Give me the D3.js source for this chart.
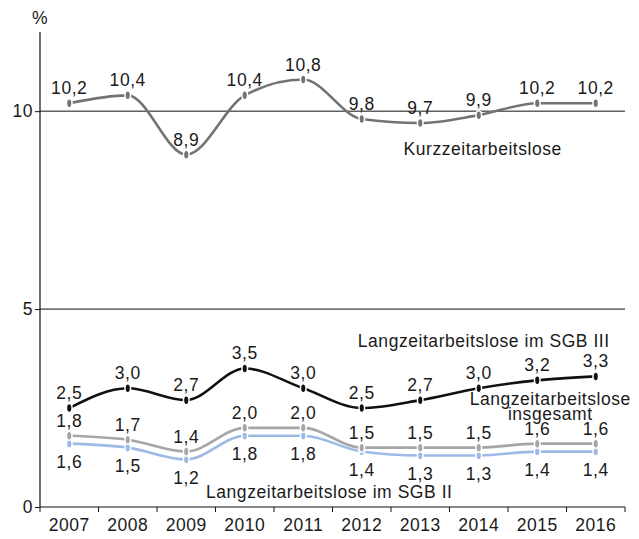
<!DOCTYPE html>
<html>
<head>
<meta charset="utf-8">
<script src="https://cdn.jsdelivr.net/npm/d3@7/dist/d3.min.js"></script>
<style>
  html, body { margin: 0; padding: 0; background: #fff; }
  svg text { font-family: "Liberation Sans", Arial, Helvetica, sans-serif; fill: #1a1a1a; letter-spacing: 0.55px; }
</style>
</head>
<body>
<svg id="chart" width="639" height="539"></svg>
<script>
// Arbeitslosenquoten in Prozent, 2007–2016
const years = ["2007","2008","2009","2010","2011","2012","2013","2014","2015","2016"];
const kurzzeit = [10.2, 10.4, 8.9, 10.4, 10.8, 9.8, 9.7, 9.9, 10.2, 10.2];
const langSGB3 = [2.5, 3.0, 2.7, 3.5, 3.0, 2.5, 2.7, 3.0, 3.2, 3.3];
const langGesamt = [1.8, 1.7, 1.4, 2.0, 2.0, 1.5, 1.5, 1.5, 1.6, 1.6];
const langSGB2 = [1.6, 1.5, 1.2, 1.8, 1.8, 1.4, 1.3, 1.3, 1.4, 1.4];
const yTicks = [0, 5, 10];

const svg = d3.select("#chart");
const plotLeft = 40, plotRight = 625, plotTop = 32, plotBottom = 507;
const fs = 17.5;

const x = d3.scaleBand().domain(years).range([plotLeft, plotRight]);
const y = d3.scaleLinear().domain([0, 12]).range([plotBottom, plotTop]);
const cx = yr => x(yr) + x.bandwidth() / 2;
const fmt = v => v.toFixed(1).replace(".", ",");

// horizontal reference lines at 5 and 10
svg.append("g").selectAll("line").data(yTicks.filter(t => t > 0)).join("line")
  .attr("x1", plotLeft).attr("x2", plotRight)
  .attr("y1", d => y(d)).attr("y2", d => y(d))
  .attr("stroke", "#111").attr("stroke-width", 1);

// y axis
const yAxis = svg.append("g").attr("transform", `translate(${plotLeft},0)`)
  .call(d3.axisLeft(y).tickValues(yTicks).tickSize(5).tickFormat(d => d));
yAxis.select(".domain").attr("d", `M0,${plotTop}V${plotBottom}`).attr("stroke", "#111").attr("stroke-width", 1.2);
yAxis.selectAll(".tick line").attr("stroke", "#111");
yAxis.selectAll(".tick text").attr("font-size", fs).attr("fill", "#1a1a1a").attr("x", -7)
  .attr("font-family", "Liberation Sans, Arial, sans-serif");

svg.append("text").attr("x", plotLeft).attr("y", 24).attr("text-anchor", "middle")
  .attr("font-size", fs).text("%");

// x axis with ticks at band boundaries
const xg = svg.append("g").attr("transform", `translate(0,${plotBottom})`);
xg.append("line").attr("x1", plotLeft).attr("x2", plotRight).attr("stroke", "#111").attr("stroke-width", 1.2);
const edges = years.map(yr => x(yr)).concat([plotRight]);
xg.selectAll("line.t").data(edges).join("line").attr("class", "t")
  .attr("x1", d => d).attr("x2", d => d).attr("y1", 0).attr("y2", 5)
  .attr("stroke", "#111");
xg.selectAll("text").data(years).join("text")
  .attr("x", d => cx(d)).attr("y", 24).attr("text-anchor", "middle")
  .attr("font-size", fs).text(d => d);

const line = d3.line().x((d, i) => cx(years[i])).y(d => y(d)).curve(d3.curveMonotoneX);

const series = [
  { values: langSGB2, color: "#9db9e6", labelPos: "below" },
  { values: langGesamt, color: "#a6a6a6", labelPos: "above" },
  { values: langSGB3, color: "#111111", labelPos: "above" },
  { values: kurzzeit, color: "#737373", labelPos: "above" }
];

series.forEach(s => {
  const g = svg.append("g");
  g.append("path").datum(s.values).attr("d", line)
    .attr("fill", "none").attr("stroke", s.color).attr("stroke-width", 2.6);
  g.selectAll("ellipse").data(s.values).join("ellipse")
    .attr("cx", (d, i) => cx(years[i])).attr("cy", d => y(d))
    .attr("rx", 2.8).attr("ry", 4.5)
    .attr("fill", s.color).attr("stroke", "#fff").attr("stroke-width", 1.5);
  g.selectAll("text").data(s.values).join("text")
    .attr("x", (d, i) => cx(years[i]))
    .attr("y", d => s.labelPos === "above" ? y(d) - 9 : y(d) + 24)
    .attr("text-anchor", "middle").attr("font-size", fs)
    .text(d => fmt(d));
});

// series names
const names = [
  { text: ["Kurzzeitarbeitslose"], yr: "2014", dx: 4, v: 8.9 },
  { text: ["Langzeitarbeitslose im SGB III"], yr: "2014", dx: 5, v: 4.05 },
  { text: ["Langzeitarbeitslose", "insgesamt"], yr: "2015", dx: 13, v: 2.58 },
  { text: ["Langzeitarbeitslose im SGB II"], yr: "2011", dx: 26, v: 0.22 }
];
names.forEach(n => {
  const t = svg.append("text").attr("text-anchor", "middle").attr("font-size", fs);
  n.text.forEach((ln, i) => {
    t.append("tspan").attr("x", cx(n.yr) + n.dx).attr("y", y(n.v) + i * 15).text(ln);
  });
});
</script>
</body>
</html>
